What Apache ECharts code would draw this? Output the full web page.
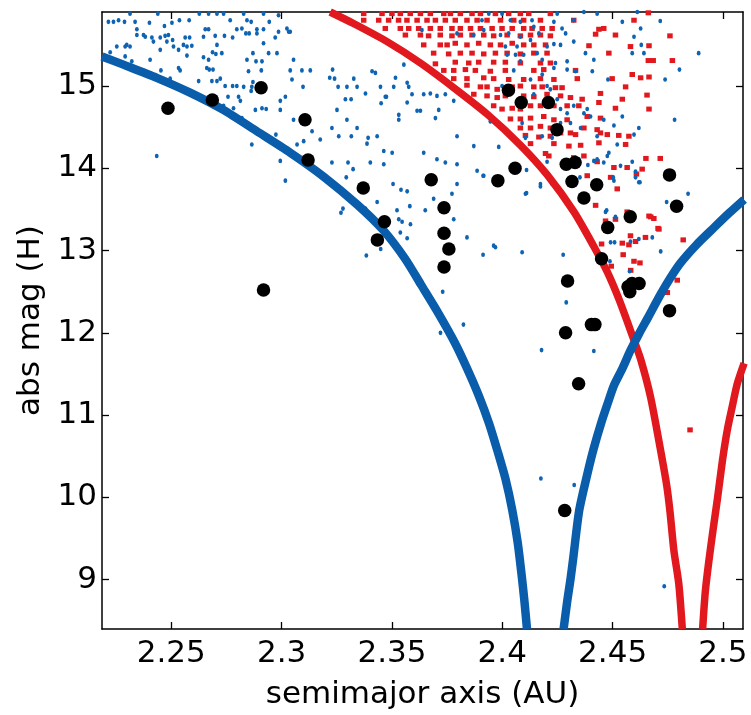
<!DOCTYPE html>
<html><head><meta charset="utf-8">
<script src="https://cdn.jsdelivr.net/npm/echarts@6/dist/echarts.min.js"></script>
<style>html,body{margin:0;padding:0;background:#fff}#c{width:751px;height:715px}</style>
</head><body><div id="c"></div>
<script>
const xTicks=[2.25,2.3,2.35,2.4,2.45,2.5];
const yTicks=[9,10,11,12,13,14,15];

const blueLeft=[[2.2186,15.36],[2.2283,15.26],[2.2434,15.10],[2.2585,14.92],[2.2736,14.71],[2.2888,14.45],[2.3039,14.19],[2.3190,13.90],[2.3342,13.56],[2.3460,13.25],[2.3560,12.90],[2.3633,12.58],[2.3710,12.24],[2.3785,11.88],[2.3840,11.57],[2.3893,11.24],[2.3940,10.90],[2.3980,10.55],[2.4015,10.22],[2.4045,9.85],[2.4070,9.45],[2.4088,9.05],[2.4100,8.75],[2.4112,8.40]];
const blueRight=[[2.4278,8.40],[2.4295,8.75],[2.4309,9.00],[2.4322,9.27],[2.4348,9.83],[2.4380,10.22],[2.4413,10.58],[2.4450,10.92],[2.4485,11.20],[2.4506,11.36],[2.4545,11.57],[2.4580,11.78],[2.4620,11.99],[2.4657,12.17],[2.4718,12.47],[2.4760,12.66],[2.4808,12.85],[2.4880,13.07],[2.4960,13.28],[2.5030,13.46],[2.5096,13.62]];
const redLeft=[[2.3220,15.90],[2.3326,15.76],[2.3478,15.54],[2.3629,15.28],[2.3780,14.98],[2.3931,14.66],[2.4083,14.28],[2.4204,13.92],[2.4325,13.47],[2.4415,13.05],[2.4476,12.74],[2.4530,12.40],[2.4589,11.97],[2.4627,11.68],[2.4672,11.22],[2.4717,10.58],[2.4745,10.15],[2.4760,9.83],[2.4778,9.35],[2.4800,8.95],[2.4816,8.40]];
const redRight=[[2.4908,8.40],[2.4920,8.85],[2.4935,9.20],[2.4955,9.60],[2.4975,9.98],[2.4998,10.45],[2.5020,10.82],[2.5042,11.10],[2.5065,11.38],[2.5096,11.63]];

const blueDots=[
[2.2215,15.78],[2.2238,15.78],[2.2261,15.80],[2.2288,15.78],[2.2313,15.88],[2.2336,15.78],[2.2401,15.77],[2.2439,15.88],[2.2469,15.73],[2.2503,15.77],[2.2537,15.80],[2.2581,15.80],[2.2627,15.88],[2.2669,15.88],[2.2707,15.88],[2.2737,15.88],[2.2767,15.80],[2.2828,15.88],[2.2862,15.78],[2.2918,15.88],[2.2944,15.78],[2.2986,15.86],[2.3024,15.70],[2.3039,15.66],[2.2843,15.80],[2.2888,15.69],[2.2918,15.69],[2.2797,15.69],[2.2820,15.70],[2.2654,15.69],[2.2669,15.69],
[2.2253,15.48],[2.2291,15.48],[2.2313,15.48],[2.2298,15.50],[2.2344,15.69],[2.2344,15.62],[2.2374,15.62],[2.2382,15.60],[2.2412,15.59],[2.2419,15.54],[2.2450,15.59],[2.2472,15.61],[2.2487,15.62],[2.2480,15.54],[2.2506,15.56],[2.2563,15.59],[2.2583,15.59],[2.2571,15.48],[2.2593,15.49],[2.2646,15.60],[2.2699,15.61],[2.2707,15.50],[2.2741,15.61],[2.2778,15.59],[2.2838,15.64],[2.2853,15.64],[2.2888,15.64],[2.2918,15.52],[2.2971,15.59],[2.2986,15.66],[2.3032,15.66],
[2.2450,15.44],[2.2510,15.48],[2.2533,15.44],[2.2555,15.50],[2.2571,15.37],[2.2646,15.35],[2.2687,15.41],[2.2702,15.39],[2.2729,15.40],[2.2669,15.32],[2.2843,15.32],[2.2870,15.40],[2.2884,15.30],[2.2911,15.30],[2.2941,15.40],[2.2979,15.40],[2.3054,15.32],[2.2291,15.36],[2.2321,15.30],[2.2404,15.32],[2.2223,15.41],
[2.2453,15.19],[2.2495,15.09],[2.2533,15.22],[2.2540,15.19],[2.2624,15.06],[2.2661,15.22],[2.2672,15.20],[2.2689,15.20],[2.2684,15.06],[2.2707,15.06],[2.2722,15.09],[2.2744,15.00],[2.2778,15.00],[2.2797,15.00],[2.2828,14.99],[2.2865,14.99],[2.2908,15.19],[2.2850,15.18],[2.2870,15.05],[2.3092,15.19],[2.3097,14.99],[2.3130,15.19],[2.3039,15.19],[2.3047,15.08],[2.3218,15.10],[2.3231,15.20],[2.3240,15.09],[2.3256,14.99],[2.3296,14.99],[2.3327,15.09],[2.3342,14.99],[2.3410,15.18],[2.3425,15.16],[2.3448,14.99],[2.3470,14.87],[2.3508,14.99],[2.3516,15.10],[2.3554,15.26],[2.3569,15.04],[2.3576,14.99],[2.3591,14.90],[2.3614,14.70],
[2.2757,14.87],[2.2805,14.87],[2.2813,14.82],[2.2862,14.94],[2.2911,14.73],[2.2930,14.72],[2.2994,14.82],[2.3017,14.87],[2.2994,14.71],[2.2782,14.73],[2.2737,14.76],[2.2881,14.71],[2.3251,14.71],[2.3289,14.84],[2.3315,14.84],[2.3380,14.91],[2.3451,14.79],[2.3475,14.87],[2.3531,14.65],[2.3569,14.80],
[2.2820,14.61],[2.2865,14.29],[2.2974,14.41],[2.3054,14.59],[2.3070,14.29],[2.3100,14.33],[2.3138,14.45],[2.3175,14.35],[2.3228,14.49],[2.3259,14.39],[2.3296,14.59],[2.3316,14.39],[2.3342,14.49],[2.3392,14.37],[2.3387,14.30],[2.3433,14.39],[2.3463,14.21],[2.3501,14.19],[2.3531,14.59],[2.2434,14.15],
[2.2994,14.09],[2.3017,13.85],[2.3228,14.07],[2.3301,14.07],[2.3324,13.99],[2.3293,13.89],[2.3402,14.07],[2.3463,14.05],[2.3505,13.81],[2.3541,13.74],[2.3569,13.72],[2.3433,13.59],[2.3278,13.51],[2.3269,13.46],[2.3380,13.51],[2.3523,13.49],[2.3581,13.54],[2.3531,13.38],[2.3546,13.35],[2.3584,13.32],[2.3538,13.22],[2.3569,13.15],
[2.3629,14.70],[2.3644,14.90],[2.3674,14.91],[2.3704,14.88],[2.3712,14.71],[2.3742,14.90],[2.3697,14.61],[2.3780,14.82],[2.3795,14.39],[2.3871,14.27],[2.3984,14.26],[2.3946,14.57],[2.4014,14.47],[2.4090,14.55],[2.4105,14.37],[2.4181,14.39],[2.4226,14.37],[2.4264,14.55],[2.4309,14.55],[2.4370,14.67],[2.4355,14.49],[2.4400,14.63],[2.4460,14.59],[2.4430,14.39],[2.4476,14.15],[2.4506,14.52],[2.4521,14.29],[2.4544,14.63],[2.4619,14.49],[2.4597,14.41],
[2.3636,15.68],[2.3795,15.64],[2.3871,15.62],[2.3908,15.80],[2.3939,15.88],[2.3999,15.88],[2.3916,15.68],[2.3992,15.62],[2.4029,15.64],[2.4082,15.60],[2.4128,15.56],[2.4166,15.64],[2.4203,15.48],[2.4234,15.51],[2.4264,15.50],[2.4324,15.54],[2.4377,15.40],[2.4408,15.18],[2.4479,15.08],[2.4589,15.40],[2.4642,15.40],
[2.4241,15.28],[2.4294,15.30],[2.4332,15.18],[2.4234,15.22],[2.4294,15.20],[2.4181,15.32],[2.4181,15.14],[2.4203,15.00],[2.4218,14.96],[2.4249,14.84],[2.4264,14.72],[2.4294,14.67],[2.4324,14.76],[2.4385,14.72],[2.4158,15.40],[2.4097,15.38],[2.4060,15.38],[2.4022,15.38],[2.4067,15.48],[2.4014,15.48],[2.4082,15.30],[2.4052,15.19],[2.3999,15.00],[2.4143,14.90],[2.4128,15.08],[2.4415,15.32],
[2.4370,15.90],[2.4430,15.88],[2.4612,15.90],[2.4544,15.78],[2.4597,15.60],[2.4627,15.70],[2.4135,15.80],[2.4249,15.88],[2.4234,15.78],[2.4271,15.70],[2.4287,15.64],[2.4324,15.80],[2.4143,15.72],[2.4037,15.80],[2.4082,15.78],
[2.4415,14.09],[2.4460,14.07],[2.4506,13.85],[2.4536,14.03],[2.4589,14.08],[2.4604,13.96],[2.4619,13.83],[2.4468,13.47],[2.4513,13.41],[2.4491,13.10],[2.4581,13.11],[2.4619,13.14],[2.4226,13.81],[2.4173,13.81],[2.4105,13.69],[2.3961,13.06],[2.3840,13.16],[2.3780,13.38],[2.3795,13.81],[2.3886,13.97],[2.3916,13.91],[2.3644,14.19],[2.3704,14.11],[2.3742,14.07],[2.3795,14.05],[2.3689,13.63],[2.3772,13.69],[2.3651,13.49],
[2.3913,13.91],[2.4110,13.98],[2.4173,13.78],[2.4110,13.70],[2.4203,14.08],[2.4347,14.11],[2.4388,14.04],[2.4430,14.11],[2.4483,14.19],[2.4352,13.89],[2.4503,13.89],[2.4604,13.89],[2.4624,13.83],[2.4842,13.69],[2.4745,13.59],[2.4473,13.49],[2.4680,13.16],[2.4718,12.99],[2.4509,13.10],[2.3969,13.04],[2.3913,12.95],[2.4090,12.98],[2.4276,12.95],[2.4488,12.87],[2.4577,12.75],[2.4290,12.37],[2.4178,11.79],[2.4415,11.78],
[2.3384,12.94],[2.3449,13.02],[2.3824,12.10],[2.3730,12.50],[2.3720,12.00],[2.4175,10.23],[2.4326,10.15],[2.4734,8.92],
[2.4716,15.79],[2.4890,15.40],[2.4738,15.08],[2.4803,15.20],[2.4781,14.59],[2.4630,15.50]
];

const redSquares=[
[2.3372,15.88],[2.3455,15.88],[2.3500,15.88],[2.3538,15.88],[2.3583,15.88],[2.3629,15.88],[2.3674,15.88],[2.3735,15.88],[2.3765,15.88],[2.3810,15.88],[2.3863,15.88],[2.3901,15.88],[2.3969,15.88],[2.4029,15.88],[2.4082,15.88],[2.4120,15.88],[2.4218,15.88],
[2.3372,15.80],[2.3440,15.80],[2.3485,15.80],[2.3530,15.80],[2.3568,15.80],[2.3614,15.80],[2.3659,15.80],[2.3697,15.80],[2.3742,15.80],[2.3787,15.80],[2.3840,15.80],[2.3886,15.80],[2.3931,15.80],[2.3992,15.80],[2.4052,15.80],[2.4097,15.80],[2.4173,15.80],[2.4324,15.80],[2.4597,15.80],
[2.3470,15.70],[2.3538,15.70],[2.3576,15.70],[2.3621,15.70],[2.3674,15.70],[2.3719,15.70],[2.3772,15.70],[2.3810,15.70],[2.3856,15.70],[2.3901,15.70],[2.3954,15.70],[2.3999,15.70],[2.4045,15.70],[2.4097,15.70],[2.4135,15.70],[2.4181,15.70],[2.4226,15.70],[2.4438,15.69],[2.4460,15.70],
[2.3561,15.62],[2.3629,15.62],[2.3666,15.61],[2.3719,15.62],[2.3772,15.61],[2.3810,15.62],[2.3863,15.62],[2.3916,15.62],[2.3961,15.61],[2.4022,15.62],[2.4082,15.61],[2.4128,15.62],[2.4173,15.62],[2.4218,15.61],[2.4423,15.63],[2.4513,15.62],
[2.3644,15.50],[2.3719,15.50],[2.3750,15.50],[2.3787,15.52],[2.3840,15.50],[2.3893,15.52],[2.3946,15.50],[2.3992,15.50],[2.4045,15.52],[2.4097,15.50],[2.4143,15.50],[2.4196,15.50],[2.4393,15.49],[2.4581,15.48],[2.4665,15.49],
[2.3689,15.40],[2.3757,15.39],[2.3810,15.40],[2.3863,15.40],[2.3916,15.39],[2.3969,15.40],[2.4022,15.40],[2.4082,15.39],[2.4143,15.40],[2.4203,15.40],[2.4483,15.40],
[2.3697,15.27],[2.3787,15.29],[2.3848,15.28],[2.3893,15.29],[2.3961,15.29],[2.4014,15.29],[2.4082,15.28],[2.4173,15.28],[2.4218,15.28],
[2.3735,15.19],[2.3780,15.19],[2.3833,15.20],[2.3878,15.19],[2.3946,15.18],[2.4014,15.19],[2.4143,15.19],[2.4188,15.20],[2.4332,15.19],[2.4589,15.14],[2.4665,15.11],
[2.3780,15.09],[2.3840,15.09],[2.3916,15.10],[2.3961,15.09],[2.4029,15.08],[2.4097,15.08],[2.4173,15.09],[2.4234,15.08],[2.4340,15.09],[2.4498,15.09],[2.4627,15.10],
[2.3840,15.01],[2.3901,14.99],[2.3931,14.99],[2.3977,14.96],[2.4045,14.99],[2.4082,15.00],[2.4143,14.99],[2.4181,14.99],[2.4241,14.98],[2.4271,14.98],[2.4445,14.91],[2.4559,14.99],
[2.3871,14.90],[2.3931,14.88],[2.3977,14.86],[2.4014,14.88],[2.4097,14.88],[2.4143,14.87],[2.4203,14.90],[2.4264,14.88],[2.4309,14.86],[2.4362,14.84],[2.4544,14.84],
[2.3961,14.76],[2.3999,14.72],[2.4045,14.73],[2.4082,14.72],[2.4128,14.76],[2.4173,14.76],[2.4234,14.76],[2.4294,14.76],[2.4347,14.76],[2.4438,14.80],[2.4513,14.73],[2.4665,14.72],
[2.4037,14.60],[2.4082,14.60],[2.4128,14.61],[2.4188,14.63],[2.4234,14.59],[2.4294,14.59],[2.4385,14.63],[2.4445,14.61],
[2.4082,14.49],[2.4128,14.49],[2.4173,14.51],[2.4218,14.49],[2.4309,14.43],[2.4370,14.49],[2.4430,14.47],
[2.4105,14.40],[2.4166,14.38],[2.4218,14.39],[2.4264,14.43],[2.4332,14.41],[2.4445,14.43],[2.4476,14.41],[2.4528,14.40],[2.4574,14.39],
[2.4128,14.30],[2.4234,14.30],[2.4302,14.27],[2.4355,14.28],[2.4438,14.31],[2.4559,14.29],
[2.4196,14.18],[2.4211,14.15],[2.4324,14.13],[2.4370,14.15],[2.4430,14.08],[2.4506,14.01],[2.4566,14.01],[2.4634,13.99],
[2.4385,13.91],[2.4491,13.89],[2.4521,13.75],[2.4468,13.36],[2.4513,13.38],[2.4566,13.47],[2.4665,13.42],[2.4423,13.55],[2.4581,13.18],[2.4544,13.09],[2.4649,13.16],[2.4415,13.79],
[2.4710,13.26],[2.4820,13.13],[2.4687,13.39],[2.4548,12.95],[2.4597,12.87],[2.4624,12.85],[2.4494,12.81],[2.4582,12.76],[2.4793,12.64],[2.4748,12.49],[2.4450,13.08],[2.4574,13.07],[2.4604,13.11],
[2.4662,15.89],[2.4760,15.61],[2.4662,15.31],[2.4684,15.31],[2.4771,15.31],[2.4656,14.89],[2.4608,13.93],[2.4651,14.12],[2.4716,14.12],[2.4673,13.41],[2.4706,13.27],[2.4851,10.82]
];

const blackDots=[[2.2485,14.73],[2.2686,14.83],[2.2907,14.98],[2.2918,12.52],[2.3106,14.59],[2.3120,14.10],[2.3370,13.76],[2.3466,13.35],[2.3434,13.13],[2.3678,13.86],[2.3736,13.52],[2.3736,13.21],[2.3758,13.02],[2.3736,12.80],[2.3980,13.85],[2.4058,14.00],[2.4028,14.95],[2.4086,14.80],[2.4209,14.80],[2.4248,14.47],[2.4290,14.05],[2.4330,14.07],[2.4316,13.84],[2.4370,13.64],[2.4428,13.80],[2.4478,13.28],[2.4580,13.41],[2.4450,12.90],[2.4296,12.63],[2.4287,12.00],[2.4404,12.10],[2.4420,12.10],[2.4346,11.38],[2.4283,9.84],[2.4570,12.56],[2.4578,12.50],[2.4588,12.60],[2.4620,12.60],[2.4758,13.92],[2.4790,13.54],[2.4758,12.27]];

const X_MIN=2.2186, X_MAX=2.5091, Y_MIN=8.4, Y_MAX=15.9;
const FONT={fontFamily:'DejaVu Sans',fontSize:31,color:'#000'};
const LINE={show:true,onZero:false,lineStyle:{color:'#000',width:1.5}};
function xAx(pos,labels){
  return {type:'value',min:X_MIN,max:X_MAX,position:pos,axisLine:LINE,
    axisTick:{show:true,inside:true,length:7,customValues:xTicks,lineStyle:{color:'#000',width:1.3}},
    axisLabel:Object.assign({show:labels,customValues:xTicks,margin:9},FONT),
    splitLine:{show:false}};
}
function yAx(pos,labels){
  return {type:'value',min:Y_MIN,max:Y_MAX,position:pos,axisLine:LINE,
    axisTick:{show:true,inside:true,length:7,customValues:yTicks,lineStyle:{color:'#000',width:1.3}},
    axisLabel:Object.assign({show:labels,customValues:yTicks,margin:5},FONT),
    splitLine:{show:false}};
}
const xb=xAx('bottom',true);
xb.name='semimajor axis (AU)';xb.nameLocation='middle';xb.nameGap=50;xb.nameTextStyle=Object.assign({},FONT);
const yl=yAx('left',true);
yl.name='abs mag (H)';yl.nameLocation='middle';yl.nameGap=53;yl.nameTextStyle=Object.assign({},FONT);

const BLUE='#0a5dab', RED='#e1191f';
function curve(data,color,width,z){
  return {type:'line',data:data,showSymbol:false,symbol:'none',smooth:0.25,
    lineStyle:{color:color,width:width,cap:'butt',join:'round'},xAxisIndex:0,yAxisIndex:0,z:z,clip:true};
}
const chart=echarts.init(document.getElementById('c'));
chart.setOption({
  animation:false,
  backgroundColor:'#fff',
  grid:{left:102,right:8,top:12,bottom:82,containLabel:false},
  xAxis:[xb,xAx('top',false)],
  yAxis:[yl,yAx('right',false)],
  series:[
    {type:'scatter',data:redSquares,symbol:'rect',symbolSize:[5.5,5],itemStyle:{color:RED,opacity:1},xAxisIndex:0,yAxisIndex:0,z:2},
    {type:'scatter',data:blueDots,symbol:'circle',symbolSize:[3.8,4.6],itemStyle:{color:'#0e63b2',opacity:1},xAxisIndex:0,yAxisIndex:0,z:3},
    curve(redLeft,RED,7.5,4),
    curve(redRight,RED,7.5,4),
    curve(blueLeft,BLUE,8.5,5),
    curve(blueRight,BLUE,8.5,5),
    {type:'scatter',data:blackDots,symbol:'circle',symbolSize:13.5,itemStyle:{color:'#000',opacity:1},xAxisIndex:0,yAxisIndex:0,z:6}
  ]
});
</script></body></html>
